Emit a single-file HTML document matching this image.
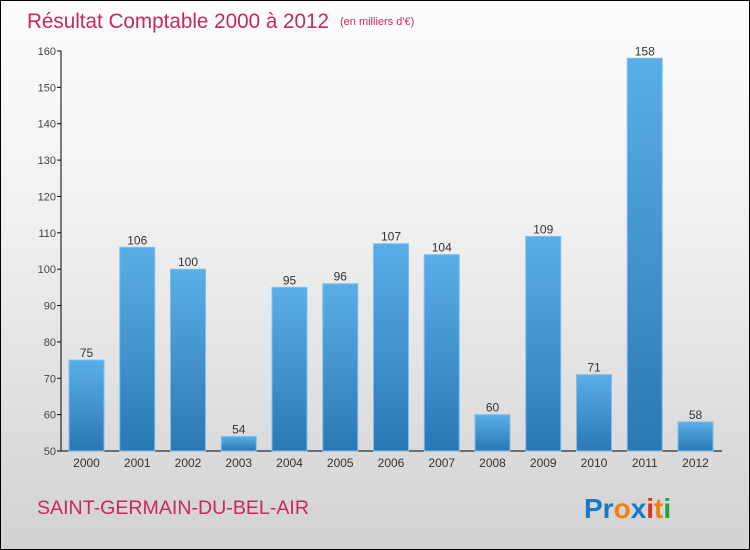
<!DOCTYPE html>
<html><head><meta charset="utf-8"><style>
body{margin:0}
#c{width:748px;height:548px;border:1px solid #000;background:linear-gradient(#fdfdfd,#f0f0f0 40%,#d2d2d2);position:relative;font-family:"Liberation Sans",sans-serif;overflow:hidden}
</style></head><body>
<div id="c">
<svg width="748" height="548">
<defs><linearGradient id="g" x1="0" y1="0" x2="0" y2="1"><stop offset="0" stop-color="#5aaee8"/><stop offset="1" stop-color="#2a78b4"/></linearGradient></defs>
<text x="26" y="27" font-size="21" fill="#c8285a" textLength="302" lengthAdjust="spacingAndGlyphs">Résultat Comptable 2000 à 2012</text>
<text x="339" y="24" font-size="11" fill="#c8285a">(en milliers d'€)</text>
<g id="axes"></g><g id="bars"></g>
<text x="36" y="513" font-size="19" fill="#c8285a" textLength="272" lengthAdjust="spacingAndGlyphs">SAINT-GERMAIN-DU-BEL-AIR</text>
<text x="583" y="517" font-size="28" font-family="'Liberation Sans',sans-serif" font-weight="bold"><tspan fill="#1a78c8">Pr</tspan><tspan fill="#f08010">o</tspan><tspan fill="#1a78c8">x</tspan><tspan fill="#e03020">i</tspan><tspan fill="#f08010">t</tspan><tspan fill="#20a040">i</tspan></text>
</svg></div>
<script>
const years=["2000","2001","2002","2003","2004","2005","2006","2007","2008","2009","2010","2011","2012"];
const values=[75,106,100,54,95,96,107,104,60,109,71,158,58];
const ticks=[50,60,70,80,90,100,110,120,130,140,150,160];
const NS="http://www.w3.org/2000/svg";
const y=v=>450-(v-50)*400/110;
const x=i=>68+i*50.75;
function mk(t,a,p,txt){const e=document.createElementNS(NS,t);for(const k in a)e.setAttribute(k,a[k]);if(txt!=null)e.textContent=txt;p.appendChild(e);return e;}
const ax=document.getElementById('axes'),bs=document.getElementById('bars');
let l=mk('line',{x1:60,y1:50,x2:60,y2:450,stroke:'#000'},ax);


l=mk('line',{x1:60,y1:450,x2:721,y2:450,stroke:'#000'},ax);


ticks.forEach(t=>{
 const tk=mk('line',{x1:56,y1:y(t),x2:60,y2:y(t),stroke:'#000'},ax);
 
 
 const tl=mk('text',{x:55,y:y(t)+4,'font-size':11,fill:'#444','text-anchor':'end'},ax,t);
 
 
});
years.forEach((yr,i)=>{
 const v=values[i];
 const r=mk('rect',{x:x(i),y:y(v),width:35,height:450-y(v),fill:'url(#g)',stroke:'#7cc0ee','stroke-width':1},bs);
 
 
 const vl=mk('text',{x:x(i)+17.5,y:y(v)-3,'font-size':12,fill:'#333','text-anchor':'middle'},bs,v);
 
 
 const xl=mk('text',{x:x(i)+17.5,y:466,'font-size':12,fill:'#333','text-anchor':'middle'},bs,yr);
 
 
});
</script>
</body></html>
